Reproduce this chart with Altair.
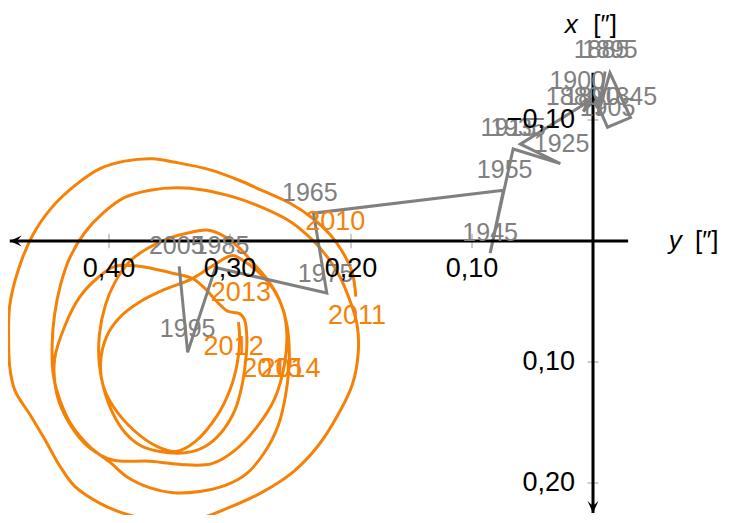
import altair as alt
import pandas as pd

# ---------------- data (arcseconds) ----------------
# orange: daily pole path (y, x)
orange_y = [0.196,0.199,0.207,0.217,0.232,0.250,0.274,0.292,0.317,0.345,0.364,0.387,0.407,0.428,0.447,0.463,0.475,0.482,0.483,0.482,
            0.478,0.465,0.453,0.440,0.428,0.407,0.385,0.358,0.325,0.300,0.274,0.248,0.227,0.211,0.199,0.194,0.195,0.201,0.209,0.219,
            0.232,0.250,0.274,0.296,0.321,0.344,0.366,0.387,0.405,0.420,0.432,0.440,0.445,0.447,0.446,0.440,0.431,0.416,0.399,0.385,
            0.366,0.347,0.325,0.304,0.286,0.271,0.260,0.254,0.251,0.253,0.259,0.269,0.282,0.293,0.307,0.319,0.333,0.351,0.368,0.383,
            0.395,0.403,0.408,0.408,0.404,0.397,0.387,0.374,0.358,0.337,0.321,0.307,0.296,0.290,0.287,0.286,0.288,0.292,0.302,0.310,
            0.321,0.331,0.350,0.374,0.395,0.410,0.424,0.436,0.445,0.443,0.432,0.416,0.397,0.366,0.336,0.315,0.296,0.278,0.263,0.255,
            0.253,0.256,0.264,0.275,0.288,0.298,0.315,0.333,0.354,0.374,0.391,0.402,0.407,0.405,0.397,0.380,0.360,0.345,0.329,0.311,
            0.300,0.294,0.292,0.293]
orange_x = [0.046,0.026,0.009,-0.005,-0.019,-0.031,-0.042,-0.050,-0.059,-0.065,-0.068,-0.066,-0.060,-0.046,-0.028,-0.005,0.024,0.053,0.079,0.104,
            0.123,0.144,0.164,0.187,0.203,0.217,0.226,0.231,0.229,0.220,0.208,0.191,0.169,0.144,0.119,0.092,0.069,0.049,0.030,0.014,
            -0.001,-0.016,-0.028,-0.036,-0.042,-0.044,-0.042,-0.036,-0.023,-0.007,0.013,0.036,0.061,0.086,0.111,0.133,0.152,0.170,0.183,0.195,
            0.204,0.208,0.207,0.202,0.192,0.174,0.152,0.127,0.098,0.069,0.049,0.032,0.017,0.005,-0.005,-0.009,-0.007,-0.002,0.006,0.017,
            0.034,0.053,0.078,0.102,0.123,0.142,0.158,0.169,0.174,0.175,0.170,0.158,0.140,0.119,0.098,0.082,0.065,0.060,0.058,0.051,
            0.039,0.031,0.026,0.021,0.021,0.031,0.046,0.069,0.098,0.127,0.152,0.171,0.181,0.182,0.185,0.184,0.173,0.154,0.130,0.102,
            0.078,0.057,0.040,0.027,0.017,0.012,0.021,0.032,0.040,0.050,0.063,0.079,0.101,0.119,0.136,0.156,0.170,0.174,0.166,0.145,
            0.123,0.101,0.082,0.067]

# gray: mean pole path
gray_y = [-0.010,-0.004,-0.014,-0.031,-0.012,-0.002,0.008,0.004,0.060,0.027,0.066,0.085,0.074,0.231,0.220,0.312,0.335,0.342]
gray_x = [-0.140,-0.104,-0.139,-0.102,-0.094,-0.117,-0.107,-0.115,-0.080,-0.064,-0.076,0.010,-0.042,-0.023,0.043,0.022,0.092,0.021]

gray_labels = ["1885","1895","1900","1880","1890","1845","1905","1915","1935","1925","1955","1945","1965","1975","1985","2005","1995"]
gray_label_y = [-0.007,-0.014,0.013,0.016,0.001,-0.030,-0.012,0.070,0.062,0.026,0.073,0.085,0.234,0.221,0.307,0.344,0.335]
gray_label_x = [-0.158,-0.158,-0.132,-0.119,-0.119,-0.119,-0.110,-0.093,-0.093,-0.080,-0.059,-0.007,-0.040,0.027,0.004,0.004,0.073]

orange_labels = ["2010","2011","2013","2012","2015","2014"]
orange_label_y = [0.213,0.195,0.291,0.297,0.265,0.250]
orange_label_x = [-0.016,0.062,0.043,0.088,0.106,0.106]

h_ticks = [0.10, 0.20, 0.30, 0.40]
h_tick_labels = ["0,10", "0,20", "0,30", "0,40"]
v_ticks = [-0.10, 0.10, 0.20]
v_tick_labels = ["\u22120,10", "0,10", "0,20"]

# ---------------- styling ----------------
FONT = "Liberation Sans"
ORANGE = "#f58207"
GRAY = "#808080"
W, H = 714, 507
YDOM = [-0.10661, 0.48347]   # horizontal (y axis, increasing to the left)
XDOM = [-0.19256, 0.22645]   # vertical (x axis, increasing downward)

xs = alt.Scale(domain=YDOM, reverse=True, nice=False, zero=False)
ys = alt.Scale(domain=XDOM, reverse=True, nice=False, zero=False)

def X(f="yv"):
    return alt.X(f"{f}:Q", scale=xs, axis=None)

def Y(f="xv"):
    return alt.Y(f"{f}:Q", scale=ys, axis=None)

orange_df = pd.DataFrame({"yv": orange_y, "xv": orange_x, "i": range(len(orange_y))})
gray_df = pd.DataFrame({"yv": gray_y, "xv": gray_x, "i": range(len(gray_y))})
glab_df = pd.DataFrame({"yv": gray_label_y, "xv": gray_label_x, "t": gray_labels})
olab_df = pd.DataFrame({"yv": orange_label_y, "xv": orange_label_x, "t": orange_labels})

orange_line = alt.Chart(orange_df).mark_line(color=ORANGE, strokeWidth=3, interpolate="catmull-rom").encode(
    x=X(), y=Y(), order="i:Q")
gray_line = alt.Chart(gray_df).mark_line(color=GRAY, strokeWidth=3).encode(x=X(), y=Y(), order="i:Q")

gray_text = alt.Chart(glab_df).mark_text(font=FONT, fontSize=25, color=GRAY, align="center", baseline="middle").encode(
    x=X(), y=Y(), text="t:N")
orange_text = alt.Chart(olab_df).mark_text(font=FONT, fontSize=27, color=ORANGE, align="center", baseline="middle").encode(
    x=X(), y=Y(), text="t:N")

# axes
haxis_df = pd.DataFrame({"yv": [0.482], "yv2": [-0.029], "xv": [0.0]})
vaxis_df = pd.DataFrame({"xv": [-0.139], "xv2": [0.2248], "yv": [0.0]})
haxis = alt.Chart(haxis_df).mark_rule(color="black", strokeWidth=3).encode(
    x=X(), x2="yv2:Q", y=Y())
vaxis = alt.Chart(vaxis_df).mark_rule(color="black", strokeWidth=3).encode(
    y=Y(), y2="xv2:Q", x=X())

harrow = alt.Chart(pd.DataFrame({"yv": [0.482], "xv": [0.0]})).mark_point(
    shape="M 0 0 L 2 -0.9 Q 1.3 -0.2 1.3 0 Q 1.3 0.2 2 0.9 Z", size=144, filled=True, color="black", opacity=1
).encode(x=X(), y=Y())
varrow = alt.Chart(pd.DataFrame({"yv": [0.0], "xv": [0.2248]})).mark_point(
    shape="M 0 0 L -0.9 -2 Q -0.2 -1.3 0 -1.3 Q 0.2 -1.3 0.9 -2 Z", size=144, filled=True, color="black", opacity=1
).encode(x=X(), y=Y())

htick_df = pd.DataFrame({"yv": h_ticks, "xv": [-0.006] * 4, "xv2": [0.006] * 4, "t": h_tick_labels})
vtick_df = pd.DataFrame({"xv": v_ticks, "yv": [0.0045] * 3, "yv2": [-0.0045] * 3, "t": v_tick_labels})
hticks = alt.Chart(htick_df).mark_rule(color="#9a9a9a", strokeWidth=1).encode(x=X(), y=Y(), y2="xv2:Q")
vticks = alt.Chart(vtick_df).mark_rule(color="#9a9a9a", strokeWidth=1).encode(y=Y(), x=X(), x2="yv2:Q")

hlab = alt.Chart(pd.DataFrame({"yv": h_ticks, "xv": [0.0] * 4, "t": h_tick_labels})).mark_text(
    font=FONT, fontSize=27, color="black", align="center", baseline="alphabetic", dy=36
).encode(x=X(), y=Y(), text="t:N")
vlab = alt.Chart(pd.DataFrame({"yv": [0.0] * 3, "xv": v_ticks, "t": v_tick_labels})).mark_text(
    font=FONT, fontSize=27, color="black", align="right", baseline="alphabetic", dx=-18, dy=8
).encode(x=X(), y=Y(), text="t:N")

# axis titles
title_df = pd.DataFrame({
    "yv": [0.018, -0.010, -0.068, -0.094],
    "xv": [-0.1715, -0.1715, 0.007, 0.007],
    "t": ["x", "[\u2033]", "y", "[\u2033]"],
    "st": ["italic", "normal", "italic", "normal"],
})
titles_it = alt.Chart(title_df[title_df.st == "italic"]).mark_text(
    font=FONT, fontSize=26, fontStyle="italic", color="black", align="center", baseline="alphabetic"
).encode(x=X(), y=Y(), text="t:N")
titles_n = alt.Chart(title_df[title_df.st == "normal"]).mark_text(
    font=FONT, fontSize=26, color="black", align="center", baseline="alphabetic"
).encode(x=X(), y=Y(), text="t:N")

chart = alt.layer(
    hticks, vticks, orange_line, gray_line, haxis, vaxis, harrow, varrow,
    gray_text, orange_text, hlab, vlab, titles_it, titles_n
).properties(
    width=W, height=H,
    autosize=alt.AutoSizeParams(type="none"),
    padding={"left": 0, "top": 0, "right": 0, "bottom": 0},
    background="white",
).configure_view(stroke=None)

chart.save("out.html", embed_options={"renderer": "svg", "actions": False})
